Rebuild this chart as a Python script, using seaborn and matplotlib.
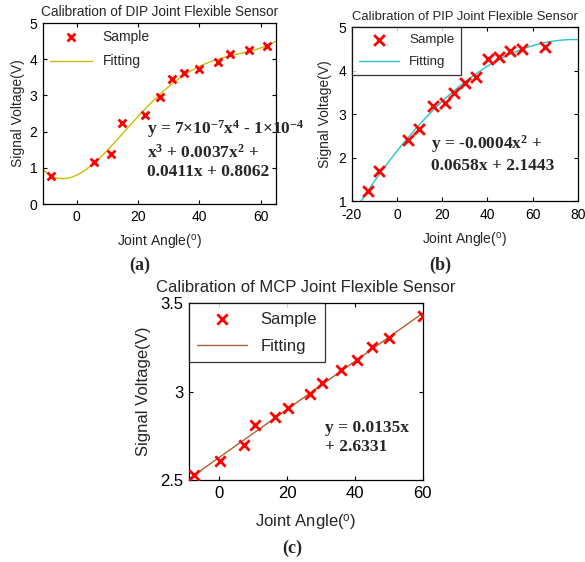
import numpy as np
import pandas as pd
import matplotlib
matplotlib.use('Agg')
import matplotlib.pyplot as plt
import seaborn as sns

# Sample readings (angle in degrees, voltage in V)
dip_angle = [-8.3, 5.5, 11.3, 14.9, 22.2, 27.2, 31.1, 35.0, 39.9, 46.2, 50.0, 56.4, 62.2]
dip_volt = [0.78, 1.15, 1.37, 2.25, 2.46, 2.95, 3.46, 3.63, 3.72, 3.91, 4.15, 4.26, 4.36]

pip_angle = [-12.9, -8.2, 5.0, 9.8, 15.7, 21.1, 25.2, 30.0, 35.0, 40.1, 45.0, 50.1, 55.2, 65.5]
pip_volt = [1.23, 1.70, 2.40, 2.65, 3.18, 3.26, 3.48, 3.71, 3.86, 4.26, 4.32, 4.46, 4.49, 4.54]

mcp_angle = [-7.4, 0.2, 7.2, 10.4, 16.5, 20.2, 26.7, 30.2, 35.9, 40.5, 45.1, 50.1, 60.0]
mcp_volt = [2.53, 2.61, 2.70, 2.81, 2.855, 2.905, 2.985, 3.05, 3.12, 3.18, 3.25, 3.305, 3.43]

dip_eq = ('y = 7×10$^{-7}$x$^{4}$ - 1×10$^{-4}$\n'
          'x$^{3}$ + 0.0037x$^{2}$ +\n'
          '0.0411x + 0.8062')
pip_eq = 'y = -0.0004x$^{2}$ +\n0.0658x + 2.1443'
mcp_eq = 'y = 0.0135x\n+ 2.6331'

sns.set_style('ticks')
plt.rcParams['font.family'] = ['Liberation Sans', 'DejaVu Sans']
plt.rcParams['axes.unicode_minus'] = False
plt.rcParams['mathtext.fontset'] = 'custom'
plt.rcParams['mathtext.rm'] = 'Liberation Serif:bold'
plt.rcParams['mathtext.it'] = 'Liberation Serif:bold'
plt.rcParams['mathtext.bf'] = 'Liberation Serif:bold'
plt.rcParams['mathtext.sf'] = 'Liberation Sans'

fig = plt.figure(figsize=(5.85, 5.62), dpi=100)

panels = [
    dict(rect=[0.0735, 0.637, 0.398, 0.322], x=dip_angle, y=dip_volt, order=4,
         color='#c8c000', xlim=(-11, 65), ylim=(0, 5), xt=[0, 20, 40, 60], yt=[0, 1, 2, 3, 4, 5],
         title='Calibration of DIP Joint Flexible Sensor', eq=dip_eq, eqpos=(147, 118),
         tag='(a)', tagpos=(140, 265), fs=10, tfs=9.8, lfs=10, ms=32, frame=False,
         xlp=6, ylp=3, xpad=4, tpad=5),
    dict(rect=[0.6017, 0.6423, 0.386, 0.3096], x=pip_angle, y=pip_volt, order=2,
         color='#20c8c8', xlim=(-20, 80), ylim=(1, 5), xt=[-20, 0, 20, 40, 60, 80], yt=[1, 2, 3, 4, 5],
         title='Calibration of PIP Joint Flexible Sensor', eq=pip_eq, eqpos=(431, 133),
         tag='(b)', tagpos=(440, 265), fs=10, tfs=9.4, lfs=9.6, ms=60, frame=True,
         xlp=6, ylp=5, xpad=5, tpad=5),
    dict(rect=[0.323, 0.1459, 0.3995, 0.3144], x=mcp_angle, y=mcp_volt, order=1,
         color='#b06030', xlim=(-9, 60), ylim=(2.5, 3.5), xt=[0, 20, 40, 60], yt=[2.5, 3, 3.5],
         title='Calibration of MCP Joint Flexible Sensor', eq=mcp_eq, eqpos=(325, 420),
         tag='(c)', tagpos=(292, 548), fs=12, tfs=12, lfs=12, ms=55, frame=True,
         xlp=9, ylp=7, xpad=4, tpad=8),
]

for p in panels:
    ax = fig.add_axes(p['rect'])
    ax.set_xlim(p['xlim'])
    ax.set_ylim(p['ylim'])
    df = pd.DataFrame({'angle': p['x'], 'volt': p['y']})
    sns.scatterplot(data=df, x='angle', y='volt', marker='x', color='red', s=p['ms'],
                    linewidth=2, label='Sample', ax=ax, zorder=3)
    sns.regplot(data=df, x='angle', y='volt', order=p['order'], ci=None, scatter=False,
                truncate=False, color=p['color'], line_kws={'linewidth': 1},
                label='Fitting', ax=ax)
    ax.set_xlim(p['xlim'])
    ax.set_ylim(p['ylim'])
    ax.set_xticks(p['xt'])
    ax.set_yticks(p['yt'])
    ax.set_yticklabels([f'{v:g}' for v in p['yt']])
    ax.tick_params(direction='in', top=True, right=True, length=3, width=0.8,
                   labelsize=p['fs'], colors='black', pad=4)
    ax.tick_params(axis='x', pad=p['xpad'])
    for s in ax.spines.values():
        s.set_linewidth(0.9)
        s.set_color('black')
    ax.set_title(p['title'], fontsize=p['tfs'], pad=p['tpad'])
    ax.set_xlabel('Joint Angle($^{\\mathsf{o}}$)', fontsize=p['fs'], labelpad=p['xlp'])
    ax.set_ylabel('Signal Voltage(V)', fontsize=p['fs'], labelpad=p['ylp'])
    leg = ax.legend(loc='upper left', borderaxespad=0, frameon=p['frame'], fancybox=False,
                    edgecolor='black', fontsize=p['lfs'], handlelength=3.0,
                    borderpad=0.5, labelspacing=0.75)
    if p['frame']:
        leg.get_frame().set_linewidth(0.9)
    # equation and panel tag placed in figure pixels
    ex, ey = p['eqpos']
    fig.text(ex / 585, 1 - ey / 562, p['eq'], fontsize=12.5, va='top', ha='left',
             linespacing=1.25, family='Liberation Serif', weight='bold')
    tx, ty = p['tagpos']
    fig.text(tx / 585, 1 - ty / 562, p['tag'], fontsize=13, ha='center', va='center',
             family='Liberation Serif', weight='bold')

fig.savefig('out.png', dpi=100)
